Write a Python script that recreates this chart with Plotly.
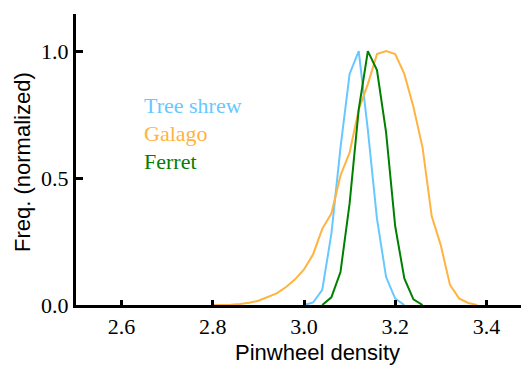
import plotly.graph_objects as go

# Data
shrew_x = [3.00, 3.02, 3.04, 3.06, 3.08, 3.10, 3.12, 3.14, 3.16, 3.18, 3.20, 3.22]
shrew_y = [0.0, 0.01, 0.06, 0.28, 0.62, 0.91, 1.0, 0.69, 0.34, 0.11, 0.025, 0.0]

galago_x = [2.80, 2.82, 2.84, 2.86, 2.88, 2.90, 2.92, 2.94, 2.96, 2.98, 3.00, 3.02,
            3.04, 3.06, 3.08, 3.10, 3.12, 3.14, 3.16, 3.18, 3.20, 3.22, 3.24, 3.26,
            3.28, 3.30, 3.32, 3.34, 3.36, 3.38]
galago_y = [0.0, 0.0, 0.001, 0.004, 0.009, 0.017, 0.03, 0.046, 0.07, 0.1, 0.14, 0.2,
            0.3, 0.36, 0.51, 0.6, 0.77, 0.87, 0.988, 1.0, 0.988, 0.91, 0.78, 0.62,
            0.35, 0.235, 0.08, 0.026, 0.008, 0.0]

ferret_x = [3.04, 3.06, 3.08, 3.10, 3.12, 3.14, 3.16, 3.18, 3.20, 3.22, 3.24, 3.26]
ferret_y = [0.0, 0.03, 0.13, 0.40, 0.77, 1.0, 0.925, 0.68, 0.31, 0.105, 0.022, 0.0]

x_ticks = [2.6, 2.8, 3.0, 3.2, 3.4]
x_tick_labels = ["2.6", "2.8", "3.0", "3.2", "3.4"]
y_ticks = [0.0, 0.5, 1.0]
y_tick_labels = ["0.0", "0.5", "1.0"]

series = [
    ("Tree shrew", shrew_x, shrew_y, "#66c8ff"),
    ("Galago", galago_x, galago_y, "#ffb340"),
    ("Ferret", ferret_x, ferret_y, "#008000"),
]

fig = go.Figure()
for name, xs, ys, col in series:
    fig.add_trace(go.Scatter(x=xs, y=ys, mode="lines", name=name,
                             line=dict(color=col, width=2), cliponaxis=False))

serif = "Liberation Serif"
sans = "Liberation Sans"

OFF = 8
PW = 453
PH = 291
X0 = 76
YB = 305

leg_y = [105, 133, 161]
for (name, xs, ys, col), py in zip(series, leg_y):
    fig.add_annotation(xref="paper", yref="paper", x=(142 - X0) / PW, y=(YB - py) / PH,
                       xanchor="left", yanchor="middle", text=name, showarrow=False,
                       font=dict(family=serif, size=22, color=col))

fig.add_annotation(xref="paper", yref="paper", x=(317 - X0) / PW, y=(YB - 352) / PH,
                   xanchor="center", yanchor="middle", text="Pinwheel density",
                   showarrow=False, font=dict(family=sans, size=22, color="black"))
fig.add_annotation(xref="paper", yref="paper", x=(22 - X0) / PW, y=(YB - 162) / PH,
                   xanchor="center", yanchor="middle", text="Freq. (normalized)",
                   textangle=-90, showarrow=False,
                   font=dict(family=sans, size=22, color="black"))

fig.update_layout(
    width=529 - OFF, height=365 - OFF,
    margin=dict(l=X0 - OFF, r=0, t=YB - PH - OFF, b=365 - YB, autoexpand=False),
    paper_bgcolor="white", plot_bgcolor="white",
    showlegend=False,
    xaxis=dict(range=[2.5, 3.4934], tickvals=x_ticks, ticktext=x_tick_labels,
               showgrid=False, zeroline=False, showline=True, linecolor="black",
               linewidth=3, ticks="inside", ticklen=5, tickwidth=3, tickcolor="black",
               tickfont=dict(family=serif, size=22, color="black")),
    yaxis=dict(range=[0, 1.146], tickvals=y_ticks, ticktext=y_tick_labels,
               showgrid=False, zeroline=False, showline=True, linecolor="black",
               linewidth=3, ticks="inside", ticklen=7, tickwidth=3, tickcolor="black",
               tickfont=dict(family=serif, size=22, color="black")),
)

fig.write_html("out.html")
